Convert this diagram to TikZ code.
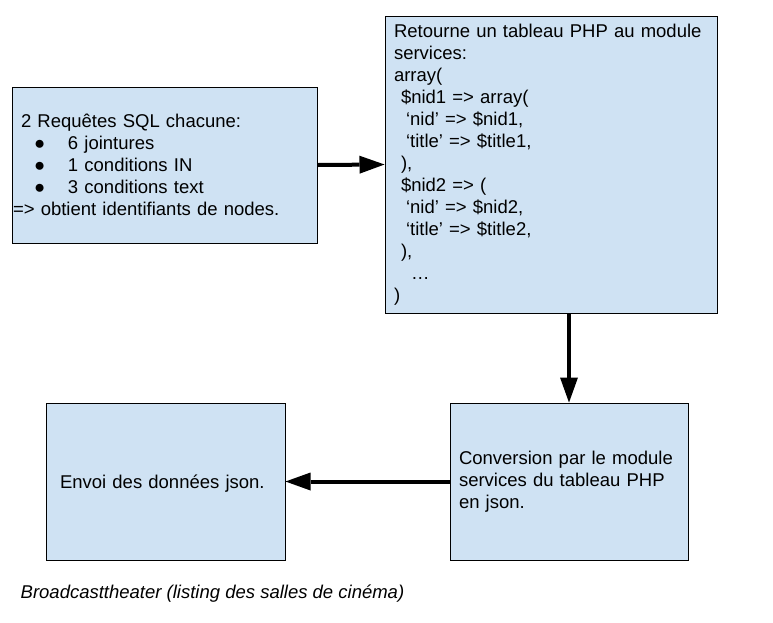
\documentclass[tikz,border=0pt]{standalone}
\usepackage{fontspec}
\setmainfont{Liberation Sans}
\usetikzlibrary{positioning, arrows.meta}
\definecolor{boxblue}{HTML}{CFE2F3}
\newcommand{\puce}[1]{\hspace*{21pt}\makebox[34pt][l]{\fontsize{18.5}{22}\selectfont ●}#1}

\begin{document}
\begin{tikzpicture}[
    x=1pt, y=-1pt,
    >={Triangle[length=25pt, width=18pt, line width=0pt]},
    every node/.style = {font=\fontsize{18.5}{22}\selectfont},
    box/.style        = {rectangle, draw, line width=1pt, fill=boxblue,
                         align=left, inner ysep=0pt},
    line/.style       = {->, line width=4pt}
]
\useasboundingbox (0,0) rectangle (773,622);

% Requetes SQL
\node[box, minimum width=305pt, minimum height=156pt,
      inner xsep=1pt, text width=303pt] (sql) at (164.5,165)
  {\hspace*{8pt}2 Requêtes SQL chacune:\\
   \puce{6 jointures}\\
   \puce{1 conditions IN}\\
   \puce{3 conditions text}\\
   => obtient identifiants de nodes.};

% Tableau PHP
\node[box, minimum width=332pt, minimum height=297pt,
      inner xsep=9pt, text width=314pt] (php) at (551,164.5)
  {Retourne un tableau PHP au module\\
   services:\\
   array(\\
   \hspace*{7pt}\$nid1 => array(\\
   \hspace*{12pt}‘nid’ => \$nid1,\\
   \hspace*{12pt}‘title’ => \$title1,\\
   \hspace*{7pt}),\\
   \hspace*{7pt}\$nid2 => (\\
   \hspace*{12pt}‘nid’ => \$nid2,\\
   \hspace*{12pt}‘title’ => \$title2,\\
   \hspace*{7pt}),\\
   \hspace*{17pt}…\\
   )};

% Conversion json
\node[box, minimum width=238pt, minimum height=157pt,
      inner xsep=9pt, text width=220pt] (conv) at (569,481.5)
  {Conversion par le module\\
   services du tableau PHP\\
   en json.};

% Envoi json
\node[box, minimum width=239pt, minimum height=157pt,
      inner xsep=14pt, text width=211pt, text depth=0pt] (json) at (165.5,481.5)
  {Envoi des données json.};

% Legende
\node[anchor=base west, inner sep=0pt,
      font=\fontsize{18.5}{22}\selectfont\itshape] (legende) at (20.5,598)
  {Broadcasttheater (listing des salles de cinéma)};

% Fleches
\draw[line] (sql.east) -- (php.west);
\draw[line] (php.south -| conv.north) -- (conv.north);
\draw[line] (conv.west) -- (json.east);

\end{tikzpicture}
\end{document}
